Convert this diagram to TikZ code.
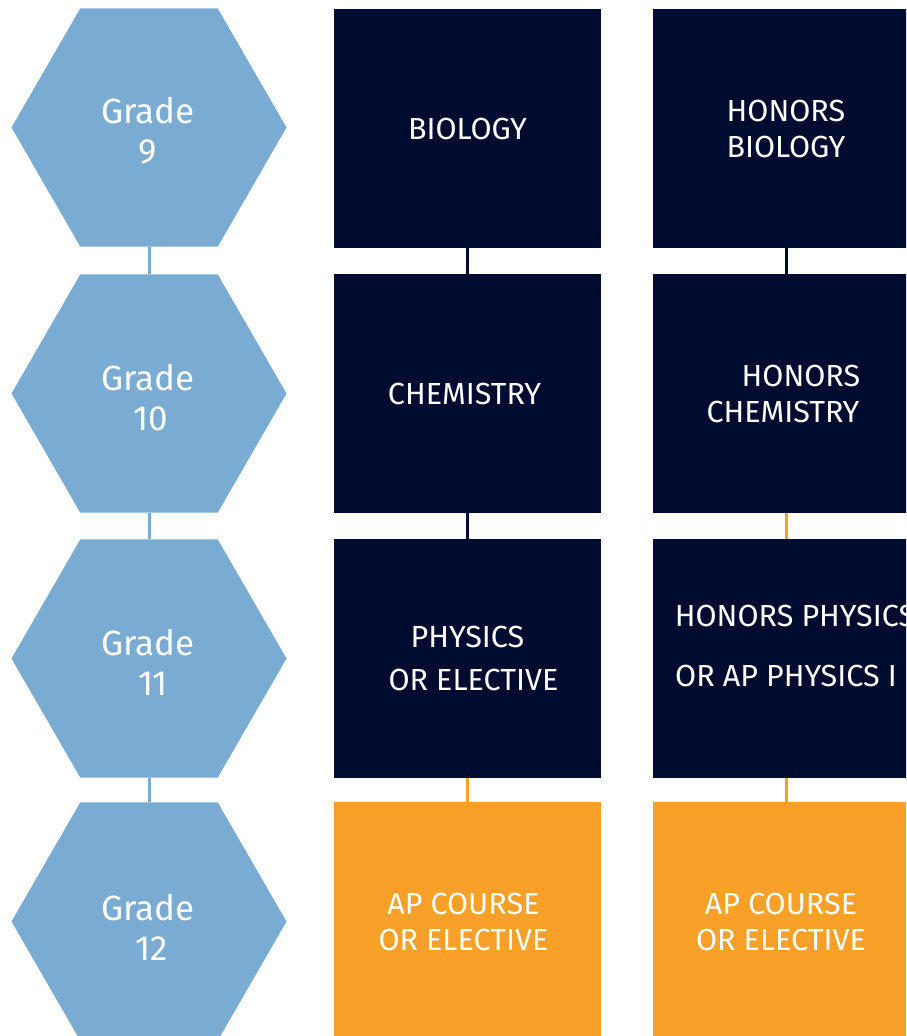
\documentclass[tikz,border=0pt]{standalone}
\usepackage{fontspec}
\setmainfont{Fira Sans}
\usetikzlibrary{shapes.geometric}
\definecolor{hexblue}{HTML}{7AACD3}
\definecolor{navy}{HTML}{000B30}
\definecolor{amber}{HTML}{F9A028}
\begin{document}
\begin{tikzpicture}[x=1pt,y=-1pt,
 hexa/.style={regular polygon, regular polygon sides=6, minimum size=275pt, inner sep=0pt, fill=hexblue},
 gradetext/.style={inner sep=0pt, text=white, font=\fontsize{35}{40}\selectfont, align=center},
 course/.style={rectangle, minimum width=267pt, minimum height=239pt, inner sep=0pt, text=white, font=\fontsize{30.5}{36}\selectfont, align=center},
 darkbox/.style={course, fill=navy},
 apbox/.style={course, fill=amber},
 link/.style={line width=3pt}]
\clip (0,0) rectangle (906,1036);
% grade hexagons
\node[hexa] (h1) at (149,127.5) {};
\node[hexa] (h2) at (149,393.5) {};
\node[hexa] (h3) at (149,658.5) {};
\node[hexa] (h4) at (149,921.5) {};
\node[gradetext] (t1) at (148,131) {Grade\\9};
\node[gradetext] (t2) at (148,398) {Grade\\\hspace*{5pt}10};
\node[gradetext] (t3) at (148,662) {Grade\\\hspace*{10pt}11};
\node[gradetext] (t4) at (148,927) {Grade\\\hspace*{8pt}12};
% standard track
\node[darkbox] (a1) at (467.5,128.5) {BIOLOGY};
\node[darkbox] (a2) at (467.5,393.5) {\hspace*{-6pt}CHEMISTRY};
\node[darkbox] (a3) at (467.5,658.5) {PHYSICS\\[7pt]\hspace*{12pt}OR ELECTIVE};
\node[apbox]   (a4) at (467.5,921.5) {\hspace*{-8pt}AP COURSE\\\hspace*{-8pt}OR ELECTIVE};
% honors track
\node[darkbox] (b1) at (786,128.5) {HONORS\\BIOLOGY};
\node[darkbox] (b2) at (786,393.5) {\hspace*{30pt}HONORS\\\hspace*{-6pt}CHEMISTRY};
\node[darkbox] (b3) at (786,658.5) {\hspace*{18pt}HONORS PHYSICS\\[24pt]OR AP PHYSICS I\\[-10pt]\mbox{}};
\node[apbox]   (b4) at (786,921.5) {\hspace*{-10pt}AP COURSE\\\hspace*{-10pt}OR ELECTIVE};
% connectors
\draw[link, hexblue] (h1) -- (h2);
\draw[link, hexblue] (h2) -- (h3);
\draw[link, hexblue] (h3) -- (h4);
\draw[link, navy] (a1) -- (a2);
\draw[link, navy] (a2) -- (a3);
\draw[link, amber] (a3) -- (a4);
\draw[link, navy] (b1) -- (b2);
\draw[link, amber] (b2) -- (b3);
\draw[link, amber] (b3) -- (b4);
\end{tikzpicture}
\end{document}
